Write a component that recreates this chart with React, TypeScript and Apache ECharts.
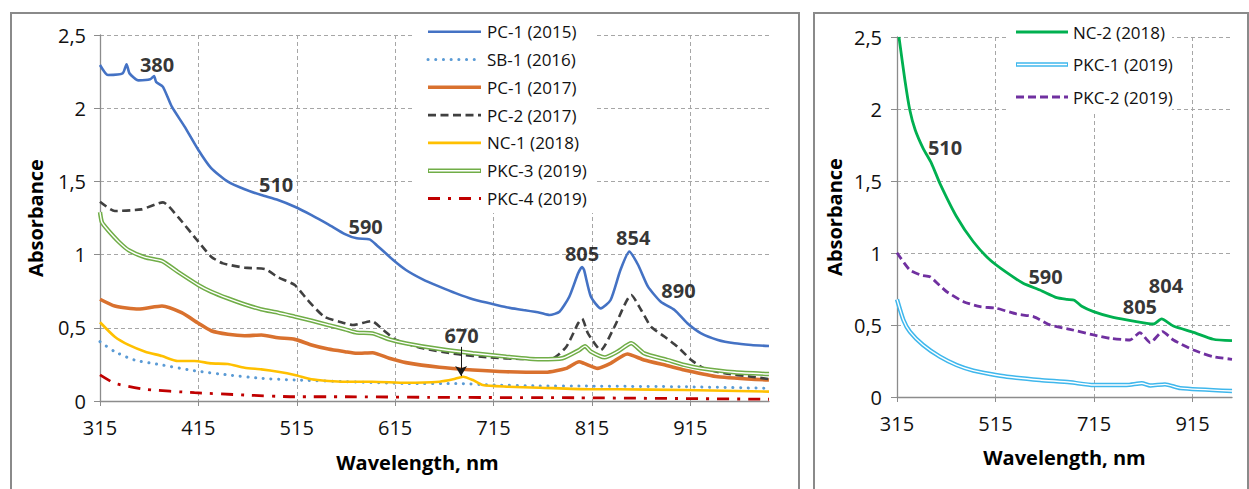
import React, { useEffect, useRef } from 'react';
import * as echarts from 'echarts';

type Pt = [number, number];

// ---------- data (wavelength nm, absorbance) ----------
const PC1_2015: Pt[] = [[315,2.295],[323,2.227],[338,2.238],[342,2.30],[345,2.238],[354,2.19],[366,2.197],[370,2.22],[372,2.18],[379,2.146],[388,2.01],[401,1.874],[415,1.714],[428,1.59],[445,1.498],[462,1.446],[479,1.407],[496,1.373],[513,1.327],[530,1.27],[547,1.207],[564,1.14],[576,1.111],[589,1.104],[596,1.066],[613,0.963],[626,0.895],[643,0.831],[660,0.781],[677,0.735],[694,0.695],[711,0.667],[728,0.64],[745,0.622],[762,0.603],[772,0.587],[782,0.61],[792,0.712],[801,0.872],[805,0.915],[807,0.895],[814,0.712],[824,0.633],[834,0.69],[844,0.895],[853,1.02],[862,0.929],[872,0.781],[885,0.678],[899,0.622],[912,0.531],[926,0.462],[943,0.417],[960,0.394],[977,0.383],[995,0.376]];
const SB1_2016: Pt[] = [[315,0.405],[330,0.337],[350,0.28],[378,0.246],[411,0.207],[445,0.178],[479,0.155],[513,0.143],[564,0.132],[626,0.12],[677,0.12],[711,0.11],[762,0.103],[807,0.102],[909,0.097],[995,0.087]];
const PC1_2017: Pt[] = [[315,0.695],[330,0.649],[354,0.628],[378,0.649],[398,0.603],[415,0.531],[428,0.48],[445,0.456],[462,0.446],[479,0.451],[496,0.432],[513,0.421],[530,0.383],[547,0.355],[564,0.337],[576,0.326],[592,0.33],[609,0.292],[626,0.262],[660,0.23],[694,0.212],[728,0.2],[768,0.196],[789,0.223],[802,0.268],[807,0.257],[821,0.223],[834,0.257],[851,0.321],[868,0.28],[892,0.241],[909,0.212],[943,0.166],[995,0.143]];
const PC2_2017: Pt[] = [[315,1.361],[330,1.298],[357,1.309],[379,1.357],[394,1.259],[415,1.088],[428,0.986],[440,0.94],[462,0.911],[483,0.9],[496,0.845],[513,0.792],[526,0.69],[543,0.576],[564,0.531],[572,0.519],[591,0.546],[603,0.485],[616,0.417],[643,0.36],[677,0.321],[711,0.298],[745,0.287],[775,0.292],[789,0.371],[801,0.531],[805,0.562],[811,0.462],[824,0.348],[838,0.508],[855,0.724],[865,0.622],[875,0.508],[889,0.439],[902,0.371],[916,0.28],[929,0.223],[950,0.189],[977,0.166],[995,0.15]];
const NC1_2018: Pt[] = [[315,0.538],[330,0.439],[344,0.383],[361,0.337],[378,0.307],[394,0.273],[411,0.273],[428,0.257],[445,0.253],[462,0.227],[479,0.216],[496,0.2],[513,0.178],[530,0.148],[547,0.137],[564,0.132],[592,0.132],[626,0.125],[660,0.132],[674,0.148],[684,0.166],[694,0.143],[704,0.109],[728,0.098],[762,0.091],[812,0.08],[841,0.08],[909,0.075],[995,0.064]];
const PKC3_2019: Pt[] = [[315,1.29],[317,1.22],[323,1.168],[334,1.088],[344,1.031],[361,0.981],[378,0.956],[394,0.883],[415,0.792],[428,0.747],[445,0.701],[462,0.66],[479,0.626],[496,0.603],[513,0.576],[530,0.549],[547,0.519],[564,0.49],[576,0.467],[592,0.462],[609,0.421],[626,0.394],[660,0.355],[694,0.326],[728,0.303],[762,0.285],[785,0.292],[802,0.348],[808,0.375],[814,0.337],[828,0.298],[841,0.337],[855,0.394],[868,0.326],[892,0.28],[909,0.246],[926,0.223],[960,0.196],[995,0.184]];
const PKC4_2019: Pt[] = [[315,0.178],[330,0.121],[361,0.08],[411,0.057],[462,0.041],[513,0.029],[564,0.029],[650,0.025],[800,0.022],[995,0.012]];

const NC2_2018: Pt[] = [[319,2.5],[331,2.201],[341,1.993],[352,1.854],[368,1.727],[385,1.623],[402,1.484],[436,1.252],[470,1.078],[504,0.951],[538,0.863],[571,0.79],[605,0.743],[639,0.69],[660,0.678],[675,0.672],[690,0.63],[714,0.593],[748,0.558],[781,0.535],[822,0.512],[836,0.507],[852,0.542],[876,0.493],[917,0.449],[957,0.401],[995,0.391]];
const PKC1_2019: Pt[] = [[315,0.678],[328,0.535],[341,0.454],[368,0.361],[402,0.28],[436,0.222],[470,0.183],[504,0.16],[538,0.141],[605,0.118],[666,0.102],[714,0.083],[781,0.083],[812,0.095],[829,0.08],[859,0.088],[890,0.062],[995,0.042]];
const PKC2_2019: Pt[] = [[315,1.002],[341,0.882],[365,0.845],[382,0.835],[400,0.78],[416,0.731],[450,0.662],[484,0.627],[517,0.616],[558,0.576],[592,0.558],[626,0.5],[666,0.47],[714,0.431],[748,0.407],[788,0.396],[808,0.447],[829,0.377],[854,0.454],[876,0.396],[917,0.326],[957,0.28],[995,0.262]];

// axis ticks
const WL_MIN = 315;
const WL_MAX = 995;
const LEFT_X_TICKS = [315, 415, 515, 615, 715, 815, 915];
const RIGHT_X_TICKS = [315, 515, 715, 915];
const Y_TICKS = [0, 0.5, 1, 1.5, 2, 2.5];

// peak annotations (label, wavelength, absorbance at label)
const LEFT_PEAK_LABELS = ['380', '510', '590', '670', '805', '854', '890'];
const LEFT_PEAK_WL = [373, 494, 585, 682.5, 805, 857, 903];
const LEFT_PEAK_ABS = [2.30, 1.48, 1.19, 0.45, 1.007, 1.12, 0.758];
const ARROW_WL = 682;
const ARROW_FROM = 0.37;
const ARROW_TO = 0.17;

const RIGHT_PEAK_LABELS = ['510', '590', '805', '804'];
const RIGHT_PEAK_WL = [412.5, 616.5, 808, 861];
const RIGHT_PEAK_ABS = [1.733, 0.84, 0.628, 0.774];

// ---------- styles ----------
const FONT = "'Open Sans', 'Noto Sans', sans-serif";

interface LineDef {
  name: string;
  data: Pt[];
  color: string;
  width: number;
  dash?: number[];
  cap?: 'round' | 'butt';
  double?: boolean;
}

const LEFT_LINES: LineDef[] = [
  { name: 'PC-1 (2015)', data: PC1_2015, color: '#4472C4', width: 2.6 },
  { name: 'SB-1 (2016)', data: SB1_2016, color: '#5B9BD5', width: 3, dash: [0.1, 7.6], cap: 'round' },
  { name: 'PC-1 (2017)', data: PC1_2017, color: '#D9712E', width: 3.6 },
  { name: 'PC-2 (2017)', data: PC2_2017, color: '#404040', width: 2.6, dash: [8, 4.5] },
  { name: 'NC-1 (2018)', data: NC1_2018, color: '#FFC000', width: 2.6 },
  { name: 'PKC-3 (2019)', data: PKC3_2019, color: '#70AD47', width: 4.4, double: true },
  { name: 'PKC-4 (2019)', data: PKC4_2019, color: '#C00000', width: 2.8, dash: [12, 8, 3, 8] },
];
const RIGHT_LINES: LineDef[] = [
  { name: 'NC-2 (2018)', data: NC2_2018, color: '#00B050', width: 2.8 },
  { name: 'PKC-1 (2019)', data: PKC1_2019, color: '#3FB7EC', width: 4.4, double: true },
  { name: 'PKC-2 (2019)', data: PKC2_2019, color: '#7030A0', width: 2.8, dash: [8, 4] },
];

function buildLineSeries(def: LineDef, idx: number): any[] {
  const data = def.data.map(([w, a]) => [w - WL_MIN, a]);
  const base = {
    type: 'line',
    xAxisIndex: idx,
    yAxisIndex: idx,
    data,
    showSymbol: false,
    symbol: 'none',
    smooth: 0.2,
    silent: true,
    animation: false,
  };
  const out: any[] = [
    {
      ...base,
      name: def.name,
      z: 2,
      lineStyle: {
        color: def.color,
        width: def.width,
        type: def.dash ? def.dash : 'solid',
        cap: def.cap || 'butt',
      },
    },
  ];
  if (def.double) {
    out.push({
      ...base,
      name: def.name + ' inner',
      z: 3,
      lineStyle: { color: '#ffffff', width: 1.4 },
    });
  }
  return out;
}

function buildAnnotations(idx: number, labels: string[], wl: number[], ab: number[], withArrow: boolean): any {
  const s: any = {
    type: 'scatter',
    xAxisIndex: idx,
    yAxisIndex: idx,
    symbolSize: 1,
    silent: true,
    z: 5,
    itemStyle: { color: 'rgba(0,0,0,0)' },
    data: labels.map((l, i) => ({ name: l, value: [wl[i] - WL_MIN, ab[i]] })),
    label: {
      show: true,
      position: 'inside',
      formatter: '{b}',
      fontFamily: FONT,
      fontWeight: 'bold',
      fontSize: 20,
      color: '#000',
    },
  };
  if (withArrow) {
    s.markLine = {
      silent: true,
      symbol: ['none', 'arrow'],
      symbolSize: [9, 10],
      label: { show: false },
      lineStyle: { color: '#1a1a1a', width: 1, type: 'solid' },
      data: [[{ coord: [ARROW_WL - WL_MIN, ARROW_FROM] }, { coord: [ARROW_WL - WL_MIN, ARROW_TO] }]],
    };
  }
  return s;
}

function xAxis(idx: number, ticks: number[], interval: number, nameGap: number, namePad: number[]): any {
  const last = ticks[ticks.length - 1];
  return {
    type: 'value',
    gridIndex: idx,
    min: 0,
    max: WL_MAX - WL_MIN,
    interval,
    axisLine: { show: true, onZero: false, lineStyle: { color: '#8c8c8c', width: 1.3 } },
    axisTick: { show: true, length: 5, lineStyle: { color: '#8c8c8c', width: 1 } },
    axisLabel: {
      showMaxLabel: false,
      formatter: (v: number) => (v + WL_MIN > last ? '' : String(v + WL_MIN)),
      fontFamily: FONT,
      fontSize: 20,
      color: '#111111',
      margin: 16,
    },
    splitLine: { show: true, showMaxLine: false, lineStyle: { color: '#a6a6a6', type: [4, 3], width: 1 } },
    name: 'Wavelength, nm',
    nameLocation: 'middle',
    nameGap,
    nameTextStyle: { fontFamily: FONT, fontWeight: 'bold', fontSize: 20, color: '#000', padding: namePad },
  };
}

function yAxis(idx: number, margin: number, nameGap: number): any {
  return {
    type: 'value',
    gridIndex: idx,
    min: Y_TICKS[0],
    max: Y_TICKS[Y_TICKS.length - 1],
    interval: Y_TICKS[1] - Y_TICKS[0],
    axisLine: { show: true, lineStyle: { color: '#8c8c8c', width: 1.3 } },
    axisTick: { show: true, length: 6, lineStyle: { color: '#8c8c8c', width: 1 } },
    axisLabel: {
      formatter: (v: number) => String(v).replace('.', ','),
      fontFamily: FONT,
      fontSize: 20,
      color: '#111111',
      margin,
    },
    splitLine: { show: true, lineStyle: { color: '#a6a6a6', type: [4, 3], width: 1 } },
    name: 'Absorbance',
    nameLocation: 'middle',
    nameGap,
    nameTextStyle: { fontFamily: FONT, fontWeight: 'bold', fontSize: 20, color: '#000' },
  };
}

function legendGraphics(defs: LineDef[], x1: number, x2: number, tx: number, y0: number, dy: number): any[] {
  const els: any[] = [];
  defs.forEach((d, i) => {
    const y = y0 + dy * i;
    els.push({
      type: 'line',
      z: 101,
      silent: true,
      shape: { x1, y1: y, x2, y2: y },
      style: {
        stroke: d.color,
        lineWidth: d.width,
        lineDash: d.dash || null,
        lineCap: d.cap || 'butt',
      },
    });
    if (d.double) {
      els.push({
        type: 'line',
        z: 102,
        silent: true,
        shape: { x1: x1 + 1, y1: y, x2: x2 - 1, y2: y },
        style: { stroke: '#ffffff', lineWidth: 1.4 },
      });
    }
    els.push({
      type: 'text',
      z: 101,
      silent: true,
      x: tx,
      y,
      style: {
        text: d.name,
        fontFamily: FONT,
        fontSize: 17,
        fill: '#111111',
        verticalAlign: 'middle',
        align: 'left',
      },
    });
  });
  return els;
}

export default function App() {
  const ref = useRef<HTMLDivElement>(null);

  useEffect(() => {
    if (!ref.current) return;
    const chart = echarts.init(ref.current, undefined, { renderer: 'svg' });

    const series: any[] = [];
    LEFT_LINES.forEach((d) => series.push(...buildLineSeries(d, 0)));
    RIGHT_LINES.forEach((d) => series.push(...buildLineSeries(d, 1)));
    series.push(buildAnnotations(0, LEFT_PEAK_LABELS, LEFT_PEAK_WL, LEFT_PEAK_ABS, true));
    series.push(buildAnnotations(1, RIGHT_PEAK_LABELS, RIGHT_PEAK_WL, RIGHT_PEAK_ABS, false));

    const graphic: any[] = [
      { type: 'rect', z: 100, silent: true, shape: { x: 11, y: 13, width: 788, height: 500 }, style: { fill: 'none', stroke: '#8a8a8a', lineWidth: 2 } },
      { type: 'rect', z: 100, silent: true, shape: { x: 814, y: 13, width: 434, height: 500 }, style: { fill: 'none', stroke: '#8a8a8a', lineWidth: 2 } },
      { type: 'rect', z: 100, silent: true, shape: { x: 412, y: 18, width: 185, height: 195 }, style: { fill: '#ffffff' } },
      { type: 'rect', z: 100, silent: true, shape: { x: 1008, y: 18, width: 164, height: 95 }, style: { fill: '#ffffff' } },
      ...legendGraphics(LEFT_LINES, 428, 481, 487, 31.7, 27.8),
      ...legendGraphics(RIGHT_LINES, 1016, 1068, 1073, 32, 32.5),
    ];

    chart.setOption({
      animation: false,
      backgroundColor: '#ffffff',
      grid: [
        { left: 100, top: 35, width: 669, height: 366, containLabel: false },
        { left: 897, top: 37, width: 335, height: 360, containLabel: false },
      ],
      xAxis: [
        xAxis(0, LEFT_X_TICKS, LEFT_X_TICKS[1] - LEFT_X_TICKS[0], 51, [0, 34, 0, 0]),
        xAxis(1, RIGHT_X_TICKS, RIGHT_X_TICKS[1] - RIGHT_X_TICKS[0], 50, [0, 0, 0, 0]),
      ],
      yAxis: [yAxis(0, 14, 55), yAxis(1, 15, 53)],
      series,
      graphic,
    });

    return () => {
      chart.dispose();
    };
  }, []);

  return (
    <div
      ref={ref}
      style={{ position: 'absolute', left: 0, top: 0, width: 1249, height: 489, background: '#fff' }}
    />
  );
}
